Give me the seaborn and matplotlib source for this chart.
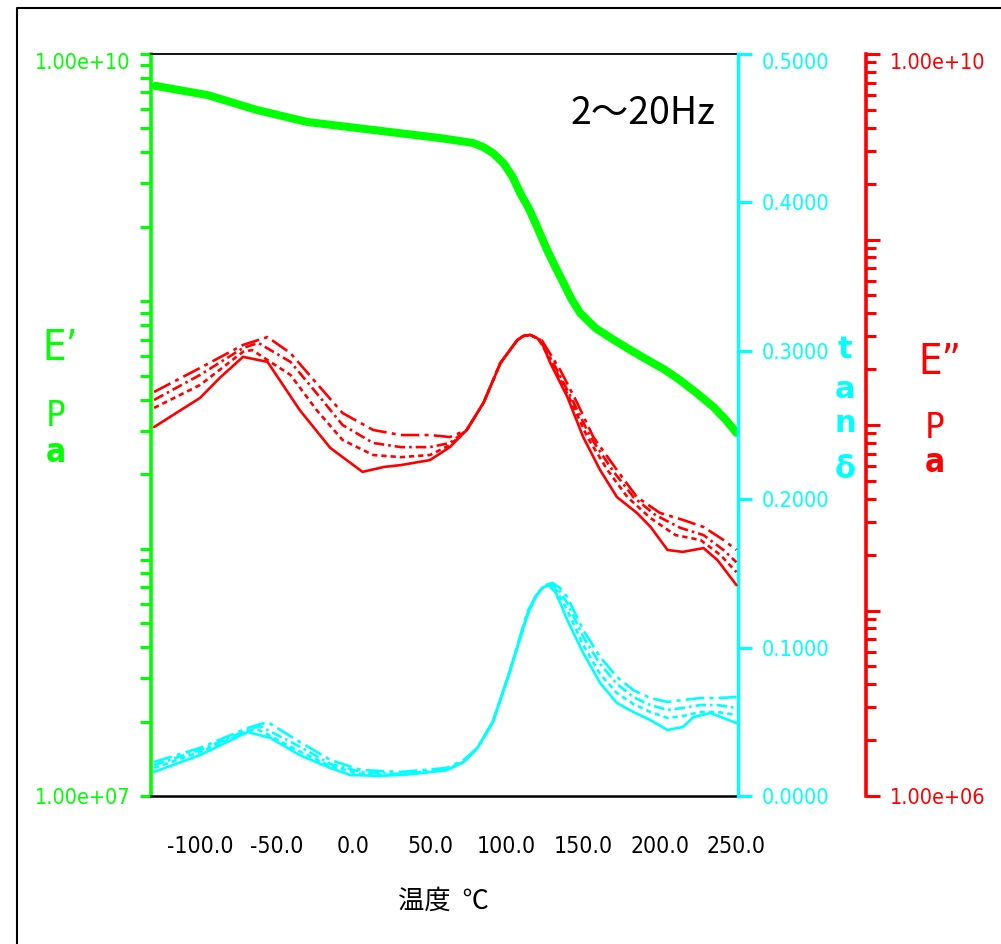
import numpy as np
import pandas as pd
import matplotlib
matplotlib.use("Agg")
import matplotlib.pyplot as plt
import seaborn as sns
from matplotlib import font_manager
from matplotlib.ticker import LogLocator, NullFormatter, FixedLocator, FixedFormatter
from matplotlib.transforms import ScaledTranslation
from matplotlib.lines import Line2D

# ── data (2~20 Hz DMA sweep) ─────────────────────────────────
# E' (Pa) – the four frequencies overlap into one band
temp_e1 = [-129, -95, -63, -30, 13, 57, 78, 85, 91, 98, 104, 109, 115, 121, 126.5, 132, 137,
           142, 148, 158, 170, 180, 192, 203, 213, 224, 235, 243, 250]
e1_vals = [7.43e9, 6.82e9, 5.94e9, 5.31e9, 4.93e9, 4.57e9, 4.37e9, 4.20e9, 3.98e9, 3.62e9,
           3.18e9, 2.73e9, 2.34e9, 1.93e9, 1.61e9, 1.37e9, 1.19e9, 1.03e9, 8.97e8, 7.80e8,
           6.98e8, 6.40e8, 5.79e8, 5.30e8, 4.81e8, 4.26e8, 3.74e8, 3.32e8, 2.94e8]

# E'' (Pa), one list per frequency
freqs = ["2Hz", "5Hz", "10Hz", "20Hz"]
temp_e2_2 = [-130, -100, -87, -72, -56, -35, -15, 6, 20, 31, 50, 63, 74, 85, 96, 107, 111,
             115.5, 120, 124, 128.5, 139.6, 150, 161, 172, 185, 194, 205, 215, 228.5, 237.6, 250]
e2_2 = [9.75e7, 1.40e8, 1.80e8, 2.33e8, 2.19e8, 1.205e8, 7.52e7, 5.59e7, 5.94e7, 6.08e7,
        6.47e7, 7.60e7, 9.40e7, 1.32e8, 2.16e8, 2.87e8, 3.02e8, 3.06e8, 2.94e8, 2.67e8,
        2.16e8, 1.42e8, 8.61e7, 5.72e7, 4.09e7, 3.36e7, 2.82e7, 2.12e7, 2.07e7, 2.17e7,
        1.87e7, 1.37e7]
temp_e2_5 = [-130, -100, -72, -66, -41, -24, -7, 13, 31, 50, 63, 74, 85, 96, 107, 111, 115.5,
             121, 130.5, 141.6, 152.7, 165.8, 178.8, 193.8, 210.2, 226.5, 239.6, 250]
e2_5 = [1.236e8, 1.644e8, 2.48e8, 2.535e8, 1.862e8, 1.205e8, 8.30e7, 6.89e7, 6.71e7, 6.89e7,
        7.80e7, 9.40e7, 1.32e8, 2.16e8, 2.87e8, 3.02e8, 3.06e8, 2.90e8, 2.10e8, 1.365e8,
        8.61e7, 5.72e7, 4.09e7, 3.155e7, 2.55e7, 2.40e7, 1.99e7, 1.61e7]
temp_e2_10 = [-130, -100, -72, -62, -41, -24, -7, 13, 31, 50, 63, 74, 85, 96, 107, 111, 115.5,
              122, 131.8, 142.9, 154.7, 169, 182.7, 197.1, 213.4, 228.5, 241.5, 250]
e2_10 = [1.365e8, 1.862e8, 2.60e8, 2.77e8, 2.19e8, 1.486e8, 1.00e8, 8.00e7, 7.60e7, 7.60e7,
         8.00e7, 9.40e7, 1.32e8, 2.16e8, 2.87e8, 3.02e8, 3.06e8, 2.88e8, 2.06e8, 1.365e8,
         8.61e7, 5.72e7, 4.09e7, 3.27e7, 2.79e7, 2.55e7, 2.12e7, 1.82e7]
temp_e2_20 = [-130, -100, -72, -56, -41, -24, -7, 13, 31, 50, 63, 74, 85, 96, 107, 111, 115.5,
              123, 135, 146, 156.6, 172, 185, 200, 215, 228.5, 241.5, 250]
e2_20 = [1.507e8, 2.03e8, 2.70e8, 2.98e8, 2.44e8, 1.68e8, 1.16e8, 9.40e7, 8.83e7, 8.83e7,
         8.61e7, 9.40e7, 1.32e8, 2.16e8, 2.87e8, 3.02e8, 3.06e8, 2.86e8, 1.98e8, 1.32e8,
         8.61e7, 5.72e7, 4.09e7, 3.36e7, 3.08e7, 2.82e7, 2.40e7, 2.12e7]

# tan delta, one list per frequency
temp_tan_2 = [-130, -100, -69, -54, -35, -15, -2, 17.5, 39, 61, 72, 81, 91, 102, 113.5, 118.7,
              123.3, 127.2, 131.8, 135, 139.6, 150, 161, 172, 182.7, 193.8, 205, 215, 222, 233, 250]
tan_2 = [0.0162, 0.0276, 0.0431, 0.0391, 0.0276, 0.0189, 0.0142, 0.0135, 0.0148, 0.0175,
         0.0229, 0.0324, 0.0499, 0.0836, 0.1220, 0.1341, 0.1402, 0.1422, 0.1375, 0.1301,
         0.1186, 0.0964, 0.0762, 0.0627, 0.0566, 0.0512, 0.0445, 0.0465, 0.0532, 0.0559, 0.0492]
temp_tan_5 = [-130, -100, -69, -63, -37, -15, 5, 31, 61, 72, 81, 91, 102, 113.5, 119, 123.5,
              127.8, 132.5, 139.6, 150, 161, 172, 182.7, 193.8, 205, 215, 226.5, 237.6, 250]
tan_5 = [0.0189, 0.0297, 0.0438, 0.0452, 0.0310, 0.0202, 0.0148, 0.0142, 0.0175,
         0.0229, 0.0324, 0.0499, 0.0836, 0.1220, 0.1345, 0.1405, 0.1422, 0.1385,
         0.1253, 0.1018, 0.0822, 0.0694, 0.0620, 0.0566, 0.0526, 0.0539, 0.0566, 0.0566, 0.0546]
temp_tan_10 = [-130, -100, -69, -61, -37, -15, 5, 31, 61, 72, 81, 91, 102, 113.5, 119.5, 124,
               128.5, 133.5, 139.6, 150, 161, 172, 182.7, 193.8, 205, 215, 226.5, 237.6, 250]
tan_10 = [0.0209, 0.0310, 0.0445, 0.0472, 0.0344, 0.0216, 0.0162, 0.0148, 0.0182,
          0.0229, 0.0324, 0.0499, 0.0836, 0.1220, 0.1350, 0.1410, 0.1429, 0.1395,
          0.1301, 0.1072, 0.0890, 0.0755, 0.0667, 0.0613, 0.0580, 0.0593, 0.0613, 0.0613, 0.0593]
temp_tan_20 = [-130, -100, -69, -56, -37, -15, 5, 31, 61, 72, 81, 91, 102, 113.5, 120, 125,
               130, 134.5, 139.6, 150, 161, 172, 182.7, 193.8, 205, 215, 226.5, 237.6, 250]
tan_20 = [0.0229, 0.0324, 0.0458, 0.0499, 0.0377, 0.0243, 0.0175, 0.0162, 0.0189,
          0.0243, 0.0324, 0.0499, 0.0836, 0.1240, 0.1365, 0.1420, 0.1435, 0.1405,
          0.1341, 0.1119, 0.0937, 0.0802, 0.0714, 0.0660, 0.0634, 0.0647, 0.0660, 0.0660, 0.0667]

x_ticks = [-100, -50, 0, 50, 100, 150, 200, 250]
tan_ticks = [0.0, 0.1, 0.2, 0.3, 0.4, 0.5]

# ── build long tables ────────────────────────────────────────
e1_df = pd.DataFrame({"temp": temp_e1, "E1": e1_vals})
e2_df = pd.concat([pd.DataFrame({"temp": t, "E2": v, "freq": f}) for t, v, f in
                   zip([temp_e2_2, temp_e2_5, temp_e2_10, temp_e2_20],
                       [e2_2, e2_5, e2_10, e2_20], freqs)])
tan_df = pd.concat([pd.DataFrame({"temp": t, "tan": v, "freq": f}) for t, v, f in
                    zip([temp_tan_2, temp_tan_5, temp_tan_10, temp_tan_20],
                        [tan_2, tan_5, tan_10, tan_20], freqs)])

# ── style ────────────────────────────────────────────────────
sns.set_style("white")
fonts = font_manager.fontManager.ttflist
names = {f.name for f in fonts}
if "Liberation Sans Narrow" in names:
    NARROW, k, STRETCH = "Liberation Sans Narrow", 1.1, "normal"
elif any(f.name == "DejaVu Sans" and "ondensed" in f.fname for f in fonts):
    NARROW, k, STRETCH = "DejaVu Sans", 1.0, "condensed"
else:
    NARROW, k, STRETCH = "DejaVu Sans", 0.9, "normal"
plt.rcParams["font.family"] = [NARROW, "DejaVu Sans"]
plt.rcParams["font.stretch"] = STRETCH

GREEN, CYAN, RED = "#00ff00", "#00ffff", "#ff0000"
W, H = 1001, 944
dash_list = ["", (2, 1.5), (4, 1.5, 1, 1.5), (7, 2, 1.5, 2)]

fig = plt.figure(figsize=(W / 100, H / 100), dpi=100)
ax = fig.add_axes([151 / W, 1 - 796 / H, 587 / W, 742 / H])
ax2 = ax.twinx()
ax3 = ax.twinx()

# E' (green, left)
ax.set_yscale("log")
sns.lineplot(data=e1_df, x="temp", y="E1", color=GREEN, lw=5.8, estimator=None, ax=ax)
ax.set_xlim(-132, 251)
ax.set_ylim(1e7, 1e10)

# tan delta (cyan, first right axis)
sns.lineplot(data=tan_df, x="temp", y="tan", style="freq", style_order=freqs, dashes=dash_list,
             color=CYAN, lw=1.9, estimator=None, legend=False, ax=ax2)
ax2.set_ylim(0, 0.5)

# E'' (red, outer right axis)
ax3.set_yscale("log")
sns.lineplot(data=e2_df, x="temp", y="E2", style="freq", style_order=freqs, dashes=dash_list,
             color=RED, lw=1.9, estimator=None, legend=False, ax=ax3)
ax3.set_ylim(1e6, 1e10)
ax3.spines["right"].set_position(("axes", (866 - 151) / 587))

for a in (ax, ax2, ax3):
    a.set_xlabel("")
    a.set_ylabel("")
    for s in a.spines.values():
        s.set_visible(False)

ax.spines["left"].set_visible(True)
ax.spines["left"].set_color(GREEN)
ax.spines["left"].set_linewidth(2.6)
ax.spines["top"].set_visible(True)
ax.spines["top"].set_color("black")
ax.spines["top"].set_linewidth(1.3)
ax.spines["bottom"].set_visible(True)
ax.spines["bottom"].set_color("black")
ax.spines["bottom"].set_linewidth(1.8)
ax2.spines["right"].set_visible(True)
ax2.spines["right"].set_color(CYAN)
ax2.spines["right"].set_linewidth(2.4)
ax3.spines["right"].set_visible(True)
ax3.spines["right"].set_color(RED)
ax3.spines["right"].set_linewidth(2.6)

# x axis
ax.set_xticks(x_ticks)
ax.set_xticklabels([f"{v:.1f}" for v in x_ticks])
ax.tick_params(axis="x", direction="out", length=16, width=1.9, color="black",
               labelsize=16.5 * k, pad=12, labelcolor="black")

# green ticks
ax.yaxis.set_major_locator(FixedLocator([1e7, 1e8, 1e9, 1e10]))
ax.yaxis.set_major_formatter(FixedFormatter(["1.00e+07", "", "", "1.00e+10"]))
ax.yaxis.set_minor_locator(LogLocator(base=10, subs=np.arange(2, 10)))
ax.yaxis.set_minor_formatter(NullFormatter())
ax.tick_params(axis="y", which="both", left=True, direction="out", length=8, width=2.2,
               color=GREEN, labelcolor=GREEN, labelsize=15.5 * k, pad=7)

# cyan ticks
ax2.set_yticks(tan_ticks)
ax2.set_yticklabels([f"{v:.4f}" for v in tan_ticks])
ax2.tick_params(axis="y", which="both", right=True, direction="out", length=10, width=2.2,
                color=CYAN, labelcolor=CYAN, labelsize=15.5 * k, pad=7)

# red ticks
ax3.yaxis.set_major_locator(FixedLocator([1e6, 1e7, 1e8, 1e9, 1e10]))
ax3.yaxis.set_major_formatter(FixedFormatter(["1.00e+06", "", "", "", "1.00e+10"]))
ax3.yaxis.set_minor_locator(LogLocator(base=10, subs=np.arange(2, 10)))
ax3.yaxis.set_minor_formatter(NullFormatter())
ax3.tick_params(axis="y", which="major", right=True, direction="out", length=10, width=2.2,
                color=RED, labelcolor=RED, labelsize=15.5 * k, pad=7)
ax3.tick_params(axis="y", which="minor", right=True, direction="out", length=7, width=2.2,
                color=RED)
ax2.tick_params(axis="x", bottom=False, labelbottom=False)
ax3.tick_params(axis="x", bottom=False, labelbottom=False)

# the top labels sit a little under their tick in the reference
shift = ScaledTranslation(0, -5 / 72, fig.dpi_scale_trans)
top_g = ax.yaxis.get_major_ticks()[-1].label1
top_g.set_transform(top_g.get_transform() + shift)
for a in (ax2, ax3):
    lbl = a.yaxis.get_major_ticks()[-1].label2
    lbl.set_transform(lbl.get_transform() + shift)


def ftext(px, py, s, **kw):
    fig.text(px / W, 1 - py / H, s, ha="center", va="center", **kw)


# labels
ftext(643, 114, "2～20Hz", fontsize=27, color="black",
      family=["Noto Sans CJK JP", "DejaVu Sans"])
ftext(443, 901, "温度  ℃", fontsize=19, color="black",
      family=["Noto Sans CJK JP", "DejaVu Sans"])

ftext(60, 348, "E’", fontsize=30, color=GREEN)
ftext(56, 416, "P", fontsize=26, color=GREEN)
ftext(56, 452, "a", fontsize=24, color=GREEN, fontweight="bold")

for py, ch in zip([350, 389, 423, 469], ["t", "a", "n", "δ"]):
    ftext(845, py, ch, fontsize=22, color=CYAN, fontweight="bold", family=["DejaVu Sans"],
          fontstretch="normal")

ftext(940, 362, "E”", fontsize=30, color=RED)
ftext(935, 428, "P", fontsize=26, color=RED)
ftext(935, 463, "a", fontsize=24, color=RED, fontweight="bold")

# outer frame (top and left only, like the screenshot)
fig.add_artist(Line2D([17 / W, 17 / W, 1.0], [0.0, 1 - 8 / H, 1 - 8 / H],
                      color="black", lw=1.5, transform=fig.transFigure))

fig.savefig("out.png", dpi=100, facecolor="white")
